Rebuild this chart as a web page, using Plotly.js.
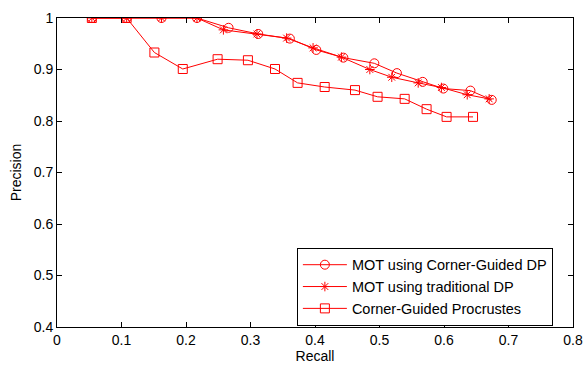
<!DOCTYPE html>
<html><head><meta charset="utf-8">
<script src="https://cdn.plot.ly/plotly-3.0.1.min.js"></script>
<style>html,body{margin:0;padding:0;background:#fff}#c{width:584px;height:366px}</style>
</head><body><div id="c"></div>
<script>
const seriesNames = ["MOT using Corner-Guided DP", "MOT using traditional DP", "Corner-Guided Procrustes"];
const recallCG = [0.054,0.108,0.162,0.217,0.266,0.312,0.361,0.402,0.444,0.492,0.527,0.567,0.599,0.641,0.674];
const precCG   = [1,1,1,1,0.981,0.969,0.960,0.938,0.923,0.912,0.893,0.876,0.863,0.859,0.841];
const recallTD = [0.054,0.108,0.162,0.217,0.258,0.310,0.356,0.397,0.441,0.485,0.519,0.560,0.596,0.636,0.670];
const precTD   = [1,1,1,1,0.977,0.969,0.961,0.942,0.924,0.900,0.885,0.874,0.865,0.851,0.843];
const recallPR = [0.054,0.108,0.151,0.195,0.249,0.296,0.338,0.373,0.415,0.462,0.497,0.539,0.573,0.604,0.645];
const precPR   = [1,1,0.933,0.901,0.920,0.918,0.901,0.874,0.866,0.860,0.847,0.843,0.823,0.808,0.808];
const xTicks = [0,0.1,0.2,0.3,0.4,0.5,0.6,0.7,0.8];
const xTickText = ["0","0.1","0.2","0.3","0.4","0.5","0.6","0.7","0.8"];
const yTicks = [0.4,0.5,0.6,0.7,0.8,0.9,1];
const yTickText = ["0.4","0.5","0.6","0.7","0.8","0.9","1"];

const red = "#ff0000";
function tr(x, y, name, sym, size){
  return {x:x, y:y, name:name, type:"scatter", mode:"lines+markers",
    line:{color:red, width:1},
    marker:{symbol:sym, size:size, color:red, line:{color:red, width:1}}};
}
const data = [
  tr(recallCG, precCG, seriesNames[0], "circle-open", 9),
  tr(recallTD, precTD, seriesNames[1], "asterisk-open", 8),
  tr(recallPR, precPR, seriesNames[2], "square-open", 9)
];
const axFont = {family:"Liberation Sans, Arial, sans-serif", size:14, color:"#000"};
const legFont = {family:"Liberation Sans, Arial, sans-serif", size:14.5, color:"#000"};
const layout = {
  width:584, height:366,
  margin:{l:57, r:11, t:18, b:39},
  paper_bgcolor:"#fff", plot_bgcolor:"#fff",
  showlegend:true,
  legend:{x:0.961, y:0.004, xanchor:"right", yanchor:"bottom",
    bgcolor:"#fff", bordercolor:"#000", borderwidth:1,
    font:legFont, tracegroupgap:0, itemwidth:44},
  xaxis:{range:[0,0.8], tickvals:xTicks, ticktext:xTickText,
    ticks:"inside", ticklen:5, tickcolor:"#000", showline:true, linecolor:"#000", linewidth:1,
    mirror:"ticks", showgrid:false, zeroline:false, tickfont:axFont,
    title:{text:"Recall", font:axFont, standoff:2}},
  yaxis:{range:[0.4,1], tickvals:yTicks, ticktext:yTickText,
    ticks:"inside", ticklen:5, tickcolor:"#000", showline:true, linecolor:"#000", linewidth:1,
    mirror:"ticks", showgrid:false, zeroline:false, tickfont:axFont,
    title:{text:"Precision", font:axFont, standoff:8}}
};
Plotly.newPlot("c", data, layout, {displayModeBar:false, staticPlot:true});
</script></body></html>
